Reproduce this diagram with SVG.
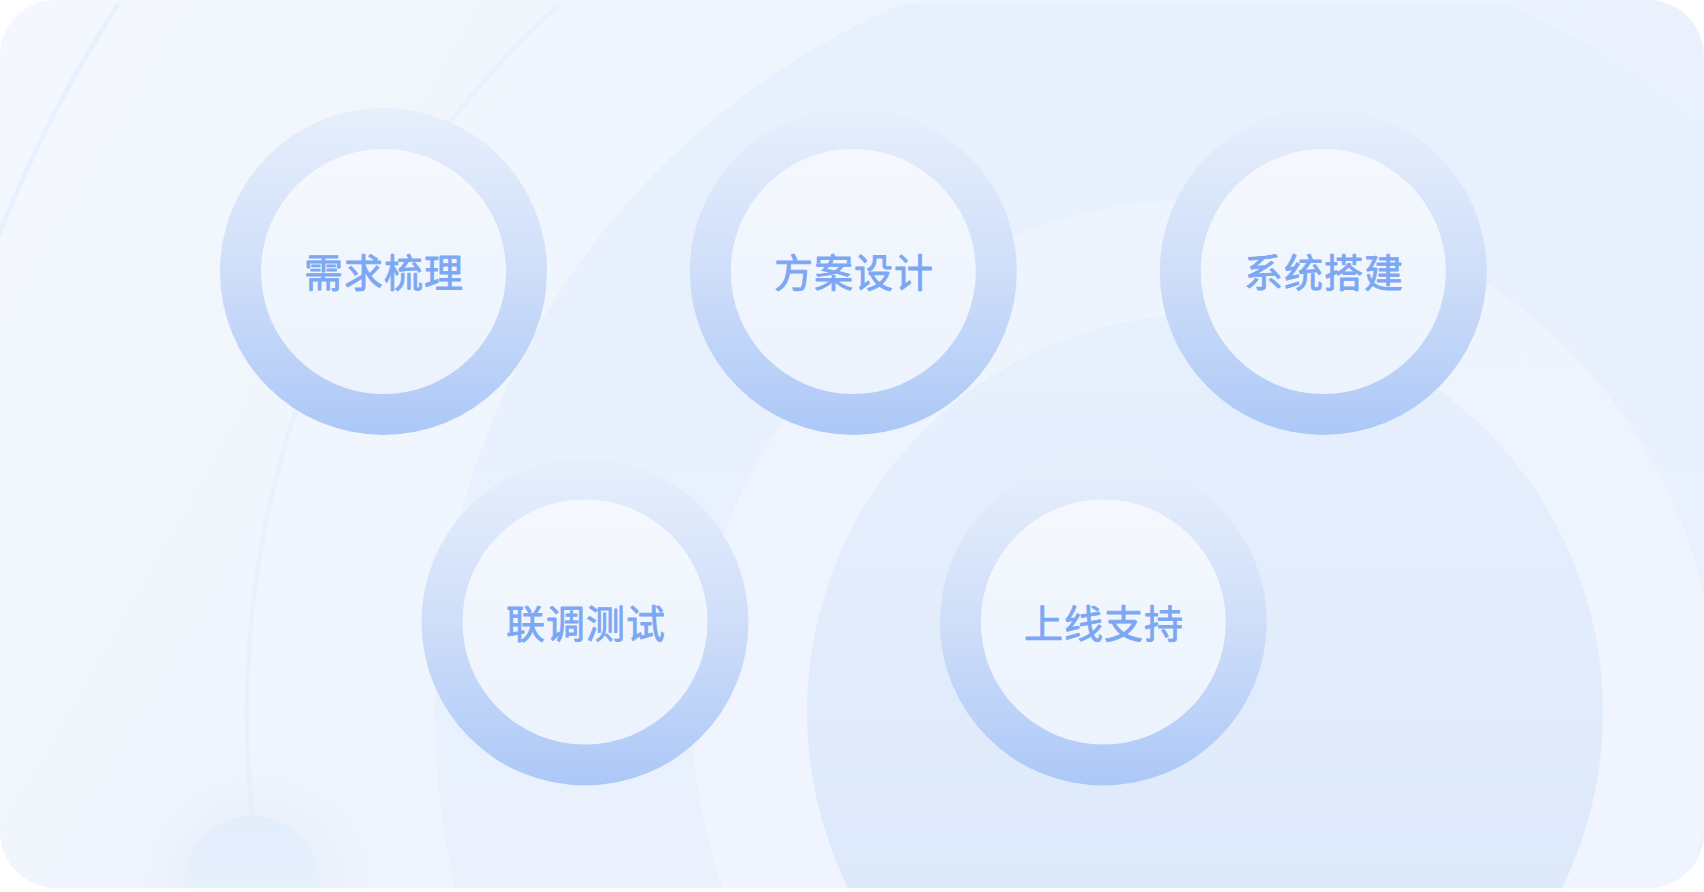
<svg xmlns="http://www.w3.org/2000/svg" width="1704" height="892" viewBox="0 0 1704 892">
<defs>
<linearGradient id="cardBg" x1="0" y1="0" x2="1" y2="0.3">
<stop offset="0" stop-color="#F4F8FE"/>
<stop offset="1" stop-color="#E9F1FD"/>
</linearGradient>
<linearGradient id="big1" x1="0" y1="0" x2="0" y2="1">
<stop offset="0" stop-color="#E7F0FD"/>
<stop offset="0.6" stop-color="#EAF1FD"/>
<stop offset="1" stop-color="#EEF3FC"/>
</linearGradient>
<linearGradient id="big2" x1="0" y1="0" x2="0" y2="1">
<stop offset="0" stop-color="#EEF4FE"/>
<stop offset="1" stop-color="#F0F5FE"/>
</linearGradient>
<linearGradient id="big3" x1="0" y1="0" x2="0" y2="1">
<stop offset="0" stop-color="#E7F0FD"/>
<stop offset="1" stop-color="#DAE6FA"/>
</linearGradient>
<linearGradient id="ring" x1="0" y1="0" x2="0" y2="1">
<stop offset="0" stop-color="#E7EFFC"/>
<stop offset="0.5" stop-color="#CFDEF9"/>
<stop offset="1" stop-color="#ACC8F7"/>
</linearGradient>
<linearGradient id="core" x1="0" y1="0" x2="0" y2="1">
<stop offset="0" stop-color="#F5F8FE"/>
<stop offset="1" stop-color="#ECF3FD"/>
</linearGradient>
<linearGradient id="dot" x1="0" y1="0" x2="0" y2="1">
<stop offset="0" stop-color="#E2EDFC"/>
<stop offset="1" stop-color="#EAF2FD"/>
</linearGradient>
<radialGradient id="glow" cx="0.5" cy="0.5" r="0.5">
<stop offset="0.5" stop-color="#DFE7F6" stop-opacity="0.35"/>
<stop offset="1" stop-color="#DFE7F6" stop-opacity="0"/>
</radialGradient>
<clipPath id="cardClip">
<rect x="0" y="4" width="1704" height="884" rx="56"/>
</clipPath>
</defs>
<style>
.arc{fill:none;stroke:#E9F1FE;stroke-width:5}
.ring{fill:url(#ring)}
.core{fill:url(#core)}
.label{font-family:"Noto Sans CJK SC","Noto Sans",sans-serif;font-size:39px;font-weight:400;fill:#7CA7F3;stroke:#7CA7F3;stroke-width:0.8px;stroke-linejoin:round;text-anchor:middle;letter-spacing:1px}
</style>
<rect width="1704" height="892" fill="#FFFFFF"/>
<rect x="0" y="0" width="1704" height="888" rx="56" fill="url(#cardBg)"/>
<g id="background" clip-path="url(#cardClip)">
<circle cx="1205" cy="712" r="770" fill="url(#big1)"/>
<circle cx="1205" cy="712" r="513" fill="url(#big2)"/>
<circle cx="1205" cy="712" r="398" fill="url(#big3)"/>
<circle class="arc" cx="1205" cy="712" r="1297"/>
<circle class="arc" cx="1205" cy="712" r="958"/>
<circle cx="252" cy="884" r="125" fill="url(#glow)"/>
<circle cx="252" cy="884" r="68" fill="url(#dot)"/>
</g>
<g id="connectors"></g>
<g id="node-1">
<circle class="ring" cx="383.5" cy="271.5" r="163.5"/>
<circle class="core" cx="383.5" cy="271.5" r="122.5"/>
<text class="label" x="384" y="287">需求梳理</text>
</g>
<g id="node-2">
<circle class="ring" cx="853.3" cy="271.5" r="163.5"/>
<circle class="core" cx="853.3" cy="271.5" r="122.5"/>
<text class="label" x="854" y="287">方案设计</text>
</g>
<g id="node-3">
<circle class="ring" cx="1323.3" cy="271.5" r="163.5"/>
<circle class="core" cx="1323.3" cy="271.5" r="122.5"/>
<text class="label" x="1324" y="287">系统搭建</text>
</g>
<g id="node-4">
<circle class="ring" cx="585" cy="622" r="163.5"/>
<circle class="core" cx="585" cy="622" r="122.5"/>
<text class="label" x="586" y="638">联调测试</text>
</g>
<g id="node-5">
<circle class="ring" cx="1103.3" cy="622" r="163.5"/>
<circle class="core" cx="1103.3" cy="622" r="122.5"/>
<text class="label" x="1104" y="638">上线支持</text>
</g>
</svg>
